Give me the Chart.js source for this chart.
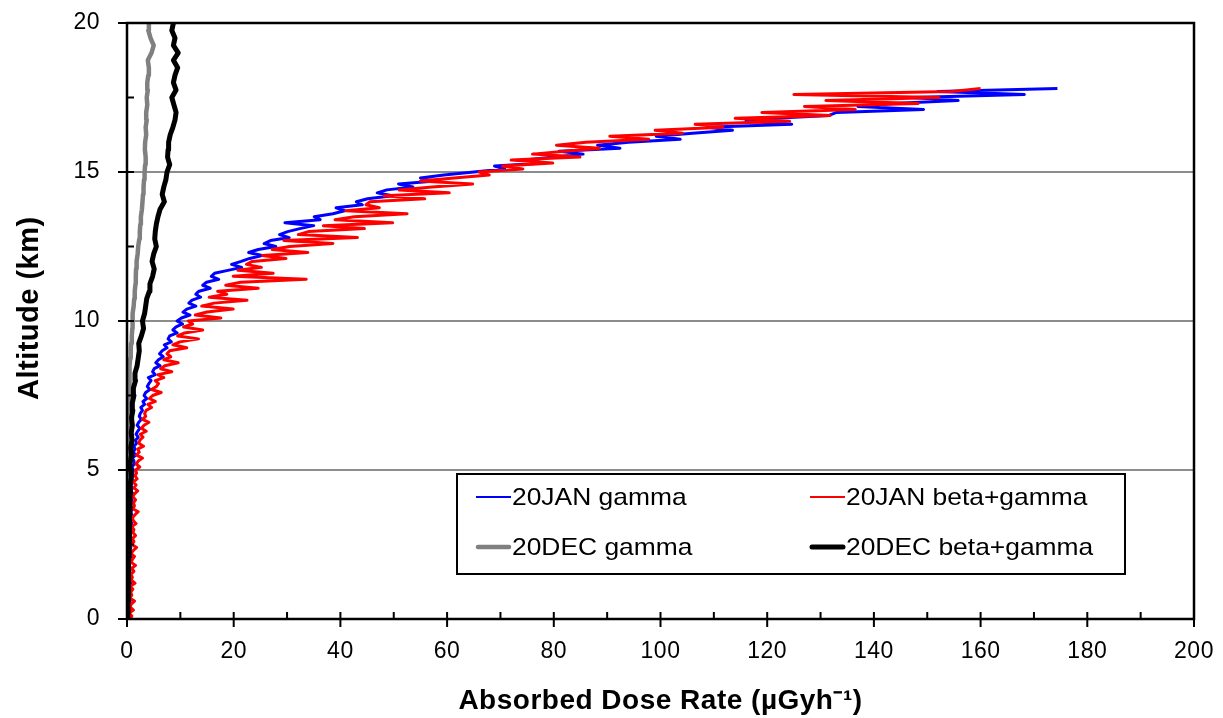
<!DOCTYPE html>
<html lang="en">
<head>
<meta charset="UTF-8">
<title>Absorbed Dose Rate vs Altitude</title>
<style>
  html, body { margin: 0; padding: 0; background: #fff; }
  #wrap { width: 1223px; height: 718px; }
</style>
</head>
<body>
<div id="wrap"><canvas id="doseChart" width="1223" height="718"></canvas></div>

<script src="https://cdn.jsdelivr.net/npm/chart.js"></script>
<script>
// altitude (km) of the January flight samples
const janAlt = [
  0.0,0.1,0.2,0.3,0.4,0.5,0.6,0.7,0.8,0.9,
  1.0,1.1,1.2,1.3,1.4,1.5,1.6,1.7,1.8,1.9,
  2.0,2.1,2.2,2.3,2.4,2.5,2.6,2.7,2.8,2.9,
  3.0,3.1,3.2,3.3,3.4,3.5,3.6,3.7,3.8,3.9,
  4.0,4.1,4.2,4.3,4.4,4.5,4.6,4.7,4.8,4.9,
  5.0,5.1,5.2,5.3,5.4,5.5,5.6,5.7,5.8,5.9,
  6.0,6.1,6.2,6.3,6.4,6.5,6.6,6.7,6.8,6.9,
  7.0,7.1,7.2,7.3,7.4,7.5,7.6,7.7,7.8,7.9,
  8.0,8.1,8.2,8.3,8.4,8.5,8.6,8.7,8.8,8.9,
  9.0,9.1,9.2,9.3,9.4,9.5,9.6,9.7,9.8,9.9,
  10.0,10.1,10.2,10.3,10.4,10.5,10.6,10.7,10.8,10.9,
  11.0,11.1,11.2,11.3,11.4,11.5,11.6,11.7,11.8,11.9,
  12.0,12.1,12.2,12.3,12.4,12.5,12.6,12.7,12.8,12.9,
  13.0,13.1,13.2,13.3,13.4,13.5,13.6,13.7,13.8,13.9,
  14.0,14.1,14.2,14.3,14.4,14.5,14.6,14.7,14.8,14.9,
  15.0,15.1,15.2,15.3,15.4,15.5,15.6,15.7,15.8,15.9,
  16.0,16.1,16.2,16.3,16.4,16.5,16.6,16.7,16.8,16.9,
  17.0,17.1,17.2,17.3,17.4,17.5,17.6,17.7,17.8
];

// 20JAN gamma (µGy/h)
const janGamma = [
  0.3,0.5,0.2,0.6,0.4,0.3,0.6,0.4,0.5,0.3,
  0.6,0.4,0.7,0.5,0.3,0.6,0.5,0.7,0.4,0.6,
  0.5,0.8,0.6,0.4,0.7,0.6,0.9,0.5,0.7,0.6,
  0.8,0.6,0.9,0.7,0.5,0.9,0.7,1.0,0.6,0.8,
  0.9,0.7,1.1,0.8,1.0,0.7,1.2,0.9,1.0,1.1,
  1.2,0.9,1.4,1.3,1.0,1.6,1.2,1.5,1.3,1.8,
  1.6,2.1,1.7,2.0,2.4,1.9,2.2,2.7,2.3,2.5,
  2.9,2.6,3.3,3.0,3.7,3.2,3.5,4.3,3.8,4.1,
  4.5,4.0,5.3,4.8,5.1,6.2,5.4,5.9,6.8,6.1,
  6.6,7.5,7.0,8.3,7.7,8.0,9.4,8.6,9.2,10.4,
  9.4,10.2,11.8,10.5,11.2,12.9,11.6,12.2,13.8,12.9,
  13.5,15.6,14.2,14.9,17.2,15.8,16.4,18.9,21.5,19.6,
  21.4,23.0,25.3,22.8,24.6,27.9,25.7,26.9,30.4,28.6,
  30.1,32.4,35.0,29.6,36.2,35.1,38.6,40.8,39.2,44.1,
  43.0,45.1,49.8,46.9,48.7,53.6,50.9,57.8,55.0,59.4,
  65.0,70.8,68.9,78.3,74.6,80.1,85.5,81.0,92.4,88.2,
  94.0,103.7,99.2,106.0,113.5,108.8,124.6,116.0,121.4,131.6,
  133.0,149.3,137.0,143.5,155.8,147.0,168.2,152.0,174.4
];

// 20JAN beta+gamma (µGy/h)
const janBetaGamma = [
  0.5,0.9,0.4,1.2,0.6,0.8,1.4,0.5,0.9,0.7,
  1.1,0.6,1.5,0.8,1.0,0.7,1.3,0.9,1.6,0.8,
  1.0,1.4,0.7,1.2,1.8,0.9,1.3,1.0,1.6,1.1,
  1.3,0.9,1.7,1.2,1.0,1.5,2.1,1.1,1.4,1.2,
  1.6,1.1,1.4,2.0,1.3,1.7,1.2,1.9,1.5,1.8,
  1.6,2.4,1.7,2.1,2.9,1.8,2.3,2.0,3.1,2.2,
  2.4,3.0,2.5,3.6,2.7,3.2,4.1,2.9,3.5,3.3,
  3.6,4.6,3.9,5.3,4.2,4.8,6.4,4.6,5.5,5.9,
  5.3,6.9,5.8,8.4,6.3,7.1,9.6,6.9,8.2,7.5,
  8.0,11.2,8.6,9.9,13.4,9.5,10.8,14.2,10.6,12.3,
  11.5,17.6,12.8,15.0,19.9,14.0,16.3,22.5,15.4,18.7,
  17.0,24.6,18.5,21.3,33.6,19.9,27.4,20.8,25.2,22.4,
  23.5,29.8,25.4,33.9,27.2,30.5,38.6,29.4,43.2,32.1,
  34.0,44.5,36.8,49.8,39.0,42.6,52.5,41.0,47.3,44.8,
  45.5,55.8,48.2,60.4,51.0,57.2,64.8,55.0,61.3,67.9,
  66.0,74.2,70.4,79.8,72.0,84.9,76.0,82.1,88.6,80.5,
  86.0,97.8,90.5,104.1,99.0,111.7,106.5,124.2,114.0,131.8,
  119.0,136.5,127.0,148.3,131.0,152.2,125.0,154.6,160.0
];

// altitude (km) of the December flight samples
const decAlt = [
  0.0,0.25,0.5,0.75,1.0,1.25,1.5,1.75,2.0,2.25,2.5,2.75,3.0,3.25,3.5,3.75,
  4.0,4.25,4.5,4.75,5.0,5.25,5.5,5.75,6.0,6.25,6.5,6.75,7.0,7.25,7.5,7.75,
  8.0,8.25,8.5,8.75,9.0,9.25,9.5,9.75,10.0,10.25,10.5,10.75,11.0,11.25,11.5,11.75,
  12.0,12.25,12.5,12.75,13.0,13.25,13.5,13.75,14.0,14.25,14.5,14.75,15.0,15.25,15.5,15.75,
  16.0,16.25,16.5,16.75,17.0,17.25,17.5,17.75,18.0,18.25,18.5,18.75,19.0,19.25,19.5,19.75,
  20.0
];

// 20DEC gamma (µGy/h)
const decGamma = [
  0.1,0.05,0.1,0.05,0.1,0.05,0.1,0.05,0.1,0.1,0.05,0.1,0.1,0.05,0.1,0.1,
  0.1,0.15,0.1,0.15,0.15,0.1,0.2,0.15,0.2,0.15,0.25,0.3,0.3,0.35,0.4,0.4,
  0.45,0.5,0.55,0.6,0.7,0.75,0.9,1.0,1.0,1.1,1.25,1.35,1.45,1.6,1.65,1.7,
  1.8,2.0,2.1,2.3,2.4,2.5,2.6,2.8,2.9,3.0,3.1,3.2,3.3,3.4,3.5,3.35,
  3.4,3.6,3.5,3.7,3.6,3.8,3.7,3.9,3.8,4.0,4.1,3.9,4.6,5.0,4.4,4.0,
  4.1
];

// 20DEC beta+gamma (µGy/h)
const decBetaGamma = [
  0.1,0.2,0.15,0.3,0.2,0.35,0.25,0.35,0.3,0.45,0.35,0.5,0.4,0.55,0.45,0.6,
  0.5,0.65,0.55,0.8,0.7,0.6,0.85,0.7,0.95,0.8,1.0,0.85,1.1,1.0,1.3,1.2,
  1.6,1.5,1.9,2.1,2.3,2.2,2.7,3.1,2.9,3.3,3.5,3.7,4.2,4.3,4.8,5.1,
  4.7,5.0,5.5,5.2,5.3,5.5,5.8,6.2,7.0,6.6,6.9,7.3,7.5,8.0,7.6,7.7,
  7.8,8.1,8.6,9.0,9.2,8.8,8.4,9.2,8.7,9.0,9.5,8.7,9.6,8.7,9.0,8.4,
  8.7
];

const seriesNames = ['20JAN gamma', '20JAN beta+gamma', '20DEC gamma', '20DEC beta+gamma'];
const xTicks = [0, 20, 40, 60, 80, 100, 120, 140, 160, 180, 200];
const yTicks = [0, 5, 10, 15, 20];

const FONT = '"Liberation Sans", Arial, Helvetica, sans-serif';

function pairs(xs, ys) {
  return xs.map((v, i) => ({ x: v, y: ys[i] }));
}

// a touch of letter spacing, the reference type runs slightly wide
const spacingPlugin = {
  id: 'spacing',
  beforeDraw(chart) {
    chart.ctx.letterSpacing = '0.5px';
  }
};

// frame, crossing major ticks, inner minor ticks, and the boxed 2x2 legend
const framePlugin = {
  id: 'frame',
  afterDraw(chart) {
    const ctx = chart.ctx;
    const area = chart.chartArea;
    const xs = chart.scales.x;
    const ys = chart.scales.y;
    ctx.save();
    ctx.strokeStyle = '#000';
    ctx.lineWidth = 2.5;
    ctx.strokeRect(area.left, area.top, area.right - area.left, area.bottom - area.top);

    ctx.lineWidth = 2;
    ctx.beginPath();
    for (let v = 0; v <= 200; v += 10) {
      const px = xs.getPixelForValue(v);
      const major = v % 20 === 0;
      ctx.moveTo(px, area.bottom - 7);
      ctx.lineTo(px, major ? area.bottom + 8 : area.bottom);
    }
    for (let v = 0; v <= 20; v += 2.5) {
      const py = ys.getPixelForValue(v);
      const major = v % 5 === 0;
      ctx.moveTo(major ? area.left - 9 : area.left, py);
      ctx.lineTo(area.left + 7, py);
    }
    ctx.stroke();

    // legend
    ctx.letterSpacing = '0px';
    const box = { x: 457, y: 474, w: 668, h: 100 };
    ctx.fillStyle = '#fff';
    ctx.fillRect(box.x, box.y, box.w, box.h);
    ctx.lineWidth = 2;
    ctx.strokeRect(box.x, box.y, box.w, box.h);
    const cols = [476, 810];
    const rows = [497, 547];
    chart.data.datasets.forEach((ds, i) => {
      const lx = cols[i % 2];
      const ly = rows[Math.floor(i / 2)];
      const thick = ds.borderWidth > 3;
      ctx.strokeStyle = ds.borderColor;
      ctx.lineWidth = thick ? ds.borderWidth : 2;
      ctx.lineCap = thick ? 'round' : 'butt';
      ctx.beginPath();
      ctx.moveTo(lx + (thick ? 2 : 0), ly);
      ctx.lineTo(lx + 35 - (thick ? 2 : 0), ly);
      ctx.stroke();
      ctx.save();
      ctx.translate(lx + 36, ly + 1);
      ctx.scale(1.1, 1);
      ctx.font = '24px ' + FONT;
      ctx.textBaseline = 'middle';
      ctx.fillStyle = '#000';
      ctx.fillText(ds.label, 0, 0);
      ctx.restore();
    });
    ctx.restore();
  }
};

const ctx = document.getElementById('doseChart').getContext('2d');
new Chart(ctx, {
  type: 'scatter',
  data: {
    datasets: [
      {
        label: seriesNames[0],
        data: pairs(janGamma, janAlt),
        borderColor: '#0000ff',
        borderWidth: 3,
        order: 4
      },
      {
        label: seriesNames[1],
        data: pairs(janBetaGamma, janAlt),
        borderColor: '#ff0000',
        borderWidth: 3,
        order: 3
      },
      {
        label: seriesNames[2],
        data: pairs(decGamma, decAlt),
        borderColor: '#808080',
        borderWidth: 4.5,
        order: 2
      },
      {
        label: seriesNames[3],
        data: pairs(decBetaGamma, decAlt),
        borderColor: '#000000',
        borderWidth: 5,
        order: 1
      }
    ]
  },
  options: {
    responsive: false,
    animation: false,
    events: [],
    showLine: true,
    layout: { padding: { left: 0, right: 29, top: 23, bottom: 0 } },
    elements: {
      point: { radius: 0, hoverRadius: 0 },
      line: { tension: 0, fill: false, borderJoinStyle: 'round' }
    },
    plugins: {
      legend: { display: false },
      tooltip: { enabled: false }
    },
    scales: {
      x: {
        type: 'linear',
        position: 'bottom',
        min: 0,
        max: 200,
        afterBuildTicks: s => { s.ticks = xTicks.map(v => ({ value: v })); },
        ticks: {
          autoSkip: false,
          maxRotation: 0,
          color: '#000',
          padding: 1,
          font: { family: FONT, size: 23 }
        },
        grid: {
          drawOnChartArea: false,
          drawTicks: true,
          tickLength: 18,
          tickColor: 'rgba(0,0,0,0)'
        },
        border: { display: false },
        title: {
          display: true,
          text: 'Absorbed Dose Rate (µGyh⁻¹)',
          color: '#000',
          font: { family: FONT, size: 28, weight: 'bold' },
          padding: { top: 0, bottom: 0 }
        },
        afterFit: s => { s.height = 99; }
      },
      y: {
        type: 'linear',
        min: 0,
        max: 20,
        afterBuildTicks: s => { s.ticks = yTicks.map(v => ({ value: v })); },
        ticks: {
          color: '#000',
          padding: 1,
          font: { family: FONT, size: 23 }
        },
        grid: {
          drawTicks: true,
          tickLength: 26,
          tickColor: 'rgba(0,0,0,0)',
          lineWidth: 2,
          color: c => (c.tick && c.tick.value > 0 && c.tick.value < 20) ? '#8c8c8c' : 'rgba(0,0,0,0)'
        },
        border: { display: false },
        title: {
          display: true,
          text: '   Altitude (km)',
          color: '#000',
          font: { family: FONT, size: 29, weight: 'bold' },
          padding: { top: 13, bottom: 0 }
        },
        afterFit: s => { s.width = 127; }
      }
    }
  },
  plugins: [spacingPlugin, framePlugin]
});
</script>
</body>
</html>
